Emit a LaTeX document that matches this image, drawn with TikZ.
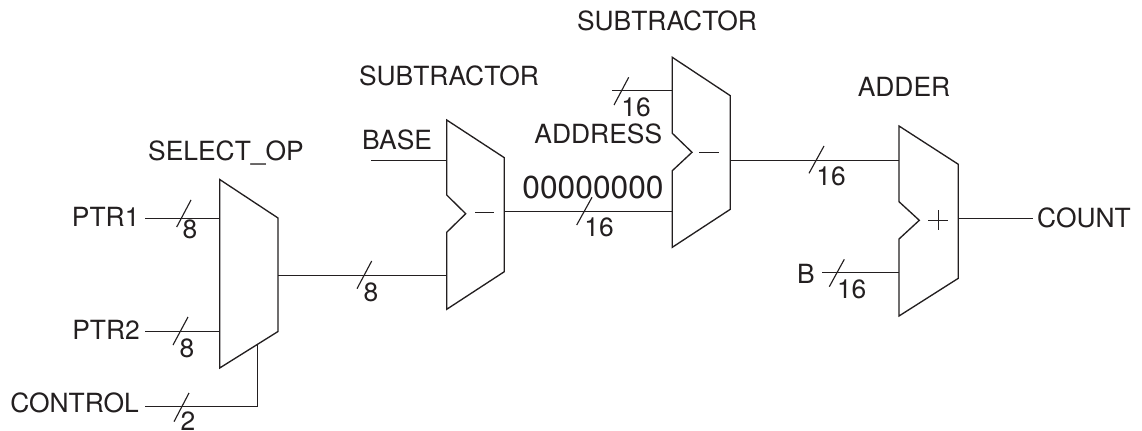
\documentclass[tikz,border=0pt]{standalone}
\usepackage{fontspec}
\setmainfont{TeX Gyre Heros}
\definecolor{ink}{HTML}{231F20}
\tikzset{
  wire/.style={draw=ink,line width=1pt},
  block/.style={draw=ink,line width=1pt,line join=miter,fill=white},
  tick/.style={draw=ink,line width=0.85pt},
  lbl/.style={text=ink,inner sep=0pt,anchor=base,font=\fontsize{19.8pt}{22pt}\selectfont},
  biglbl/.style={lbl,font=\fontsize{23.8pt}{26pt}\selectfont},
}
\begin{document}
\begin{tikzpicture}[x=0.75pt,y=-0.75pt]
\clip (0,0) rectangle (1142,431);
\fill[white] (0,0) rectangle (1142,431);
% wires first: ports
\coordinate (ptrA) at (145,218.5);     \coordinate (m1a) at (220,218.5);
\coordinate (ptrB) at (145,331.5);   \coordinate (m1b) at (220,331.5);
\coordinate (ctlS) at (145,406.5);   \coordinate (ctlK) at (257.5,406.5); \coordinate (m1c) at (257.5,345);
\coordinate (m1o) at (278,275.5);    \coordinate (m2b) at (446.7,275.5);
\coordinate (baseS) at (371,160.5);    \coordinate (m2a) at (446.7,160.5);
\coordinate (m2o) at (504.3,211.5);  \coordinate (m3b) at (672.3,211.5);
\coordinate (adrS) at (612,90.5);      \coordinate (m3a) at (672.3,90.5);
\coordinate (m3o) at (730.3,160.5);    \coordinate (m4a) at (899,160.5);
\coordinate (bS) at (822.3,272.5);   \coordinate (m4b) at (899,272.5);
\coordinate (m4o) at (958.3,218.5);  \coordinate (cntE) at (1033.3,218.5);
% blocks
\draw[block] (219.7,179.5) -- (278,218) -- (278,331.5) -- (219.7,368) -- cycle;
\draw[block] (446.7,120) -- (504.3,157.7) -- (504.3,271.7) -- (446.7,309.3) -- (446.7,232.3) -- (465.7,213.7) -- (446.7,195) -- cycle;
\draw[block] (672.3,57.3) -- (730.3,95.7) -- (730.3,209.3) -- (672.3,247.3) -- (672.3,170.7) -- (692,152.3) -- (672.3,133.3) -- cycle;
\draw[block] (899,126) -- (958.3,164.3) -- (958.3,278.3) -- (899,316) -- (899,239) -- (919.3,220.3) -- (899,201.7) -- cycle;
% operators
\draw[tick] (475,212.5) -- (494.3,212.5);
\draw[tick] (699.3,152.5) -- (719,152.5);
\draw[tick] (928,220.5) -- (948,220.5) (938.5,210) -- (938.5,230);
% connectors
\draw[wire] (ptrA) -- (m1a);
\draw[wire] (ptrB) -- (m1b);
\draw[wire] (ctlS) -- (ctlK) -- (m1c);
\draw[wire] (m1o) -- (m2b);
\draw[wire] (baseS) -- (m2a);
\draw[wire] (m2o) -- (m3b);
\draw[wire] (adrS) -- (m3a);
\draw[wire] (m3o) -- (m4a);
\draw[wire] (bS) -- (m4b);
\draw[wire] (m4o) -- (cntE);
% bus ticks
\draw[tick] (176.7,227) -- (191,200);
\draw[tick] (173,345) -- (188,317);
\draw[tick] (174,421.7) -- (189,393);
\draw[tick] (357,288.7) -- (371.7,261);
\draw[tick] (576.7,225) -- (592,197.3);
\draw[tick] (614,105) -- (628.7,77.3);
\draw[tick] (809,173.3) -- (824,146);
\draw[tick] (829.3,286.7) -- (844.3,259.3);
% labels
\node[lbl] (tSel) at (226,161) {SELECT\_OP};
\node[lbl] (tSubA) at (449,85.7) {SUBTRACTOR};
\node[lbl] (tSubB) at (667,30.7) {SUBTRACTOR};
\node[lbl] (tAdd) at (904,96.7) {ADDER};
\node[lbl] (tPtrA) at (105.7,226.7) {PTR1};
\node[lbl] (tPtrB) at (106,339.7) {PTR2};
\node[lbl] (tCtl) at (74.5,412.7) {CONTROL};
\node[lbl] (tBase) at (397,150) {BASE};
\node[lbl] (tAddr) at (598.3,143.3) {ADDRESS};
\node[biglbl] (tZero) at (593,198.3) {00000000};
\node[lbl] (tB) at (806,283.3) {B};
\node[lbl] (tCnt) at (1084,227.3) {COUNT};
\node[lbl] (wA) at (190,238.3) {8};
\node[lbl] (wB) at (187,357) {8};
\node[lbl] (wC) at (188,430) {2};
\node[lbl] (wD) at (371,301) {8};
\node[lbl] (wE) at (599,236.7) {16};
\node[lbl] (wF) at (636,116.7) {16};
\node[lbl] (wG) at (831,185.7) {16};
\node[lbl] (wH) at (851.7,298.3) {16};
\end{tikzpicture}
\end{document}
